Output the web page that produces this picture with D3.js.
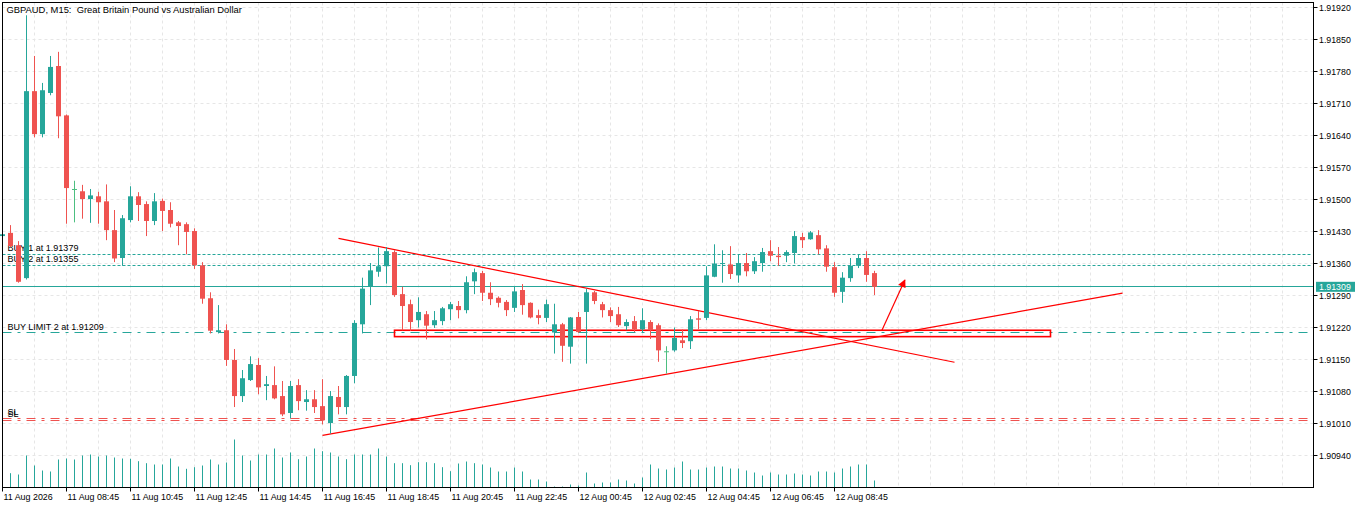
<!DOCTYPE html>
<html><head><meta charset="utf-8">
<script src="https://cdn.jsdelivr.net/npm/d3@7/dist/d3.min.js"></script>
<style>
body{margin:0;background:#fff;overflow:hidden;}
text{font-family:"Liberation Sans",Arial,sans-serif;fill:#000;white-space:pre;}
</style>
</head><body>
<svg id="chart" width="1366" height="508"></svg>
<script>
// ---------- DATA ----------
const symbolTitle = "GBPAUD, M15:  Great Britain Pound vs Australian Dollar";
const opens = [
1.91420,1.91427,1.91400,1.91328,1.91737,1.91643,1.91733,1.91792,1.91684,1.91523,
1.91518,1.91501,1.91507,1.91496,1.91433,1.91372,1.91455,1.91507,1.91490,1.91453,
1.91497,1.91477,1.91450,1.91446,1.91431,1.91356,1.91284,1.91210,1.91214,1.91149,
1.91070,1.91105,1.91138,1.91092,1.91094,1.91070,1.91033,1.91094,1.91057,1.91063,
1.91048,1.91011,1.91068,1.91046,1.91114,1.91227,1.91309,1.91342,1.91354,1.91385,
1.91293,1.91271,1.91236,1.91249,1.91225,1.91234,1.91260,1.91267,1.91258,1.91321,
1.91339,1.91296,1.91285,1.91276,1.91263,1.91302,1.91274,1.91247,1.91241,1.91209,
1.91227,1.91178,1.91243,1.91254,1.91297,1.91271,1.91258,1.91249,1.91223,1.91234,
1.91216,1.91232,1.91225,1.91168,1.91170,1.91192,1.91190,1.91240,1.91241,1.91331,
1.91359,1.91358,1.91334,1.91361,1.91343,1.91361,1.91387,1.91377,1.91377,1.91383,
1.91418,1.91413,1.91422,1.91393,1.91352,1.91298,1.91328,1.91355,1.91372,1.91339];
const highs = [
1.91426,1.91444,1.91409,1.91903,1.91814,1.91755,1.91814,1.91823,1.91686,1.91541,
1.91532,1.91523,1.91517,1.91533,1.91477,1.91466,1.91529,1.91516,1.91496,1.91514,
1.91502,1.91494,1.91453,1.91450,1.91437,1.91363,1.91297,1.91269,1.91227,1.91173,
1.91127,1.91157,1.91153,1.91114,1.91135,1.91103,1.91103,1.91107,1.91083,1.91083,
1.91107,1.91081,1.91092,1.91116,1.91236,1.91329,1.91361,1.91395,1.91396,1.91389,
1.91309,1.91281,1.91286,1.91256,1.91256,1.91265,1.91276,1.91278,1.91332,1.91349,
1.91344,1.91319,1.91288,1.91280,1.91309,1.91315,1.91275,1.91259,1.91281,1.91272,
1.91230,1.91243,1.91254,1.91305,1.91300,1.91276,1.91264,1.91265,1.91238,1.91245,
1.91262,1.91236,1.91229,1.91179,1.91220,1.91216,1.91245,1.91256,1.91354,1.91402,
1.91389,1.91398,1.91379,1.91383,1.91374,1.91394,1.91411,1.91396,1.91389,1.91431,
1.91427,1.91431,1.91433,1.91400,1.91363,1.91341,1.91372,1.91379,1.91387,1.91344];
const lows = [
1.91418,1.91396,1.91318,1.91325,1.91636,1.91636,1.91728,1.91634,1.91447,1.91450,
1.91458,1.91449,1.91447,1.91411,1.91363,1.91355,1.91450,1.91453,1.91420,1.91444,
1.91431,1.91439,1.91400,1.91380,1.91348,1.91272,1.91207,1.91207,1.91136,1.91046,
1.91057,1.91103,1.91074,1.91061,1.91063,1.91026,1.91021,1.91039,1.91038,1.91033,
1.91008,1.90988,1.91030,1.91030,1.91098,1.91207,1.91269,1.91331,1.91316,1.91287,
1.91214,1.91213,1.91220,1.91194,1.91219,1.91225,1.91236,1.91240,1.91251,1.91293,
1.91278,1.91269,1.91264,1.91245,1.91254,1.91248,1.91240,1.91227,1.91232,1.91163,
1.91145,1.91141,1.91208,1.91141,1.91271,1.91242,1.91232,1.91221,1.91214,1.91210,
1.91210,1.91195,1.91145,1.91119,1.91167,1.91175,1.91173,1.91216,1.91236,1.91330,
1.91318,1.91326,1.91318,1.91332,1.91337,1.91342,1.91365,1.91355,1.91363,1.91360,
1.91394,1.91412,1.91380,1.91342,1.91287,1.91274,1.91320,1.91350,1.91320,1.91291];
const closes = [
1.91424,1.91398,1.91320,1.91737,1.91643,1.91739,1.91790,1.91682,1.91525,1.91523,
1.91501,1.91509,1.91494,1.91433,1.91371,1.91459,1.91507,1.91488,1.91453,1.91496,
1.91475,1.91447,1.91442,1.91429,1.91356,1.91283,1.91213,1.91214,1.91149,1.91070,
1.91109,1.91140,1.91089,1.91096,1.91065,1.91030,1.91092,1.91059,1.91063,1.91046,
1.91017,1.91070,1.91046,1.91114,1.91230,1.91305,1.91345,1.91354,1.91387,1.91291,
1.91267,1.91232,1.91254,1.91224,1.91236,1.91262,1.91271,1.91258,1.91319,1.91341,
1.91296,1.91282,1.91274,1.91258,1.91299,1.91269,1.91242,1.91241,1.91271,1.91227,
1.91180,1.91242,1.91210,1.91297,1.91278,1.91258,1.91245,1.91225,1.91232,1.91216,
1.91236,1.91214,1.91170,1.91168,1.91197,1.91186,1.91238,1.91237,1.91334,1.91360,
1.91361,1.91337,1.91361,1.91343,1.91365,1.91385,1.91377,1.91374,1.91385,1.91420,
1.91411,1.91428,1.91391,1.91353,1.91296,1.91329,1.91355,1.91372,1.91335,1.91309];
const tickVolumes = [
560,572,520,1280,880,680,640,1120,1160,1120,
1280,1320,1240,1280,1200,1160,1148,1052,972,920,
920,1160,840,748,812,880,1120,920,1000,1920,
1280,1080,1320,1320,1560,1200,1400,1132,1240,1560,
1452,1400,1240,1132,1320,1320,1320,1560,1240,972,
972,892,1012,1012,972,812,652,960,1040,972,
920,800,640,640,800,640,320,320,240,40,
40,120,80,600,160,200,200,320,280,160,
400,920,760,720,800,1040,720,720,800,840,
840,760,760,680,600,480,600,520,520,560,
520,480,640,640,600,760,840,920,920,280];
const timeTickBars = [0,8,16,24,32,40,48,56,64,72,80,88,96,104];
const timeTickLabels = ["11 Aug 2026","11 Aug 08:45","11 Aug 10:45","11 Aug 12:45","11 Aug 14:45",
  "11 Aug 16:45","11 Aug 18:45","11 Aug 20:45","11 Aug 22:45","12 Aug 00:45","12 Aug 02:45",
  "12 Aug 04:45","12 Aug 06:45","12 Aug 08:45"];
const priceTicks = [1.91920,1.91850,1.91780,1.91710,1.91640,1.91570,1.91500,1.91430,
  1.91360,1.91290,1.91220,1.91150,1.91080,1.91010,1.90940];
const lastPrice = 1.91309;
const orderLabels = ["BUY 1 at 1.91379","BUY 2 at 1.91355","BUY LIMIT 2 at 1.91209"];
const orderPrices = [1.91379,1.91355,1.91209];
const slLabels = ["SL","SL"];
const slPrices = [1.91021,1.91016];
// drawn objects (bar index, price)
const upperTrendBars = [42,119], upperTrendPrices = [1.91415,1.91144];
const lowerTrendBars = [40,140], lowerTrendPrices = [1.90984,1.91295];
const zoneBars = [49,131], zonePrices = [1.91214,1.91200];
const arrowBars = [109.9,112.8], arrowPrices = [1.91213,1.91324];

// ---------- LAYOUT ----------
const W=1366,H=508;
const L=2.5,R=1313.5,T=2.5,B=487.5;
const BULL="#26a69a", BEAR="#ef5350", DOJI="#4cbf80", OBJ="#ff0000", GRID="#e6e6e6";
const svg=d3.select("#chart");
const x=d3.scaleLinear().domain([0,163.875]).range([L,R]);
const y=d3.scaleLinear().domain([1.90940,1.91920]).range([455.5,7.5]);
const yv=d3.scaleLinear().domain([0,2000]).range([B,B-50]);
const crisp=v=>Math.round(v-0.5)+0.5;

// grid
const vGrid=d3.range(4,164,4);
svg.append("g").selectAll("line").data(vGrid).join("line")
  .attr("x1",d=>x(d)).attr("x2",d=>x(d)).attr("y1",T).attr("y2",B)
  .attr("stroke",GRID).attr("stroke-dasharray","3,3");
svg.append("g").selectAll("line").data(priceTicks).join("line")
  .attr("x1",L).attr("x2",R).attr("y1",d=>crisp(y(d))).attr("y2",d=>crisp(y(d)))
  .attr("stroke",GRID).attr("stroke-dasharray","3,3");

// order lines
const gOrd=svg.append("g");
orderPrices.forEach((p,i)=>{
  const yy=crisp(y(p));
  gOrd.append("line").attr("x1",L).attr("x2",R-1).attr("y1",yy).attr("y2",yy)
    .attr("stroke",BULL).attr("stroke-dasharray",i<2?"3,2":"9,6,3,6");
  gOrd.append("text").attr("x",7.5).attr("y",yy-(i<2?3.5:3)).attr("font-size","9px").text(orderLabels[i]);
});
slPrices.forEach((p,i)=>{
  const yy=crisp(y(p));
  gOrd.append("line").attr("x1",L).attr("x2",R-1).attr("y1",yy).attr("y2",yy)
    .attr("stroke",BEAR).attr("stroke-dasharray","9,6,3,6");
  gOrd.append("text").attr("x",7.5).attr("y",yy-3.5).attr("font-size","9px").text(slLabels[i]);
});
// current price line
gOrd.append("line").attr("x1",L).attr("x2",R).attr("y1",crisp(y(lastPrice))).attr("y2",crisp(y(lastPrice)))
  .attr("stroke",BULL);

// objects
const lineGen=d3.line().x(d=>x(d[0])).y(d=>y(d[1]));
const gObj=svg.append("g").attr("fill","none").attr("stroke",OBJ);
gObj.append("path").attr("d",lineGen(upperTrendBars.map((b,i)=>[b,upperTrendPrices[i]]))).attr("stroke-width",1.2);
gObj.append("path").attr("d",lineGen(lowerTrendBars.map((b,i)=>[b,lowerTrendPrices[i]]))).attr("stroke-width",1.2);
gObj.append("rect").attr("x",x(zoneBars[0])).attr("width",x(zoneBars[1])-x(zoneBars[0]))
  .attr("y",y(zonePrices[0])).attr("height",y(zonePrices[1])-y(zonePrices[0])).attr("stroke-width",1.6);
svg.append("defs").append("marker").attr("id","ah").attr("viewBox","0 0 10 10").attr("refX",9).attr("refY",5)
  .attr("markerWidth",9).attr("markerHeight",8).attr("markerUnits","userSpaceOnUse").attr("orient","auto")
  .append("path").attr("d","M0,0L10,5L0,10Z").attr("fill",OBJ);
gObj.append("path").attr("d",lineGen(arrowBars.map((b,i)=>[b,arrowPrices[i]]))).attr("stroke-width",1.2)
  .attr("marker-end","url(#ah)");

// volumes
svg.append("g").selectAll("line").data(tickVolumes).join("line")
  .attr("x1",(d,i)=>x(i)).attr("x2",(d,i)=>x(i)).attr("y1",B).attr("y2",d=>yv(d))
  .attr("stroke",BULL);

// candles
const idx=d3.range(opens.length);
const col=i=>closes[i]>opens[i]?BULL:(closes[i]<opens[i]?BEAR:DOJI);
const gC=svg.append("g");
gC.selectAll("line.w").data(idx).join("line").attr("class","w")
  .attr("x1",i=>x(i)).attr("x2",i=>x(i)).attr("y1",i=>y(highs[i])).attr("y2",i=>y(lows[i]))
  .attr("stroke",col);
gC.selectAll("rect").data(idx).join("rect")
  .attr("x",i=>x(i)-2.5).attr("width",5)
  .attr("y",i=>Math.min(y(opens[i]),y(closes[i])))
  .attr("height",i=>Math.max(1,Math.abs(y(opens[i])-y(closes[i]))))
  .attr("fill",col);

// frame
svg.append("rect").attr("x",L).attr("y",T).attr("width",R-L).attr("height",B-T)
  .attr("fill","none").attr("stroke","#000");

// price axis
const gP=svg.append("g");
gP.selectAll("line").data(priceTicks).join("line")
  .attr("x1",R).attr("x2",R+4).attr("y1",d=>crisp(y(d))).attr("y2",d=>crisp(y(d))).attr("stroke","#000");
gP.selectAll("text").data(priceTicks).join("text")
  .attr("x",R+5.5).attr("y",d=>y(d)+3.3).attr("font-size","8.8px").text(d=>d.toFixed(5));
const ly=y(lastPrice);
gP.append("rect").attr("x",R+2.5).attr("y",ly-5).attr("width",39).attr("height",10).attr("fill",BULL);
gP.append("text").attr("x",R+5.5).attr("y",ly+3.3).attr("font-size","8.8px").style("fill","#fff").text(lastPrice.toFixed(5));

// time axis
const gT=svg.append("g");
gT.selectAll("line").data(timeTickBars).join("line")
  .attr("x1",d=>x(d)).attr("x2",d=>x(d)).attr("y1",B).attr("y2",B+4).attr("stroke","#000");
gT.selectAll("text").data(timeTickBars).join("text")
  .attr("x",d=>x(d)+1).attr("y",500).attr("font-size","8.9px").text((d,i)=>timeTickLabels[i]);

// title
svg.append("text").attr("x",6.5).attr("y",12.5).attr("font-size","9.4px").attr("xml:space","preserve").text(symbolTitle);
</script>
</body></html>
